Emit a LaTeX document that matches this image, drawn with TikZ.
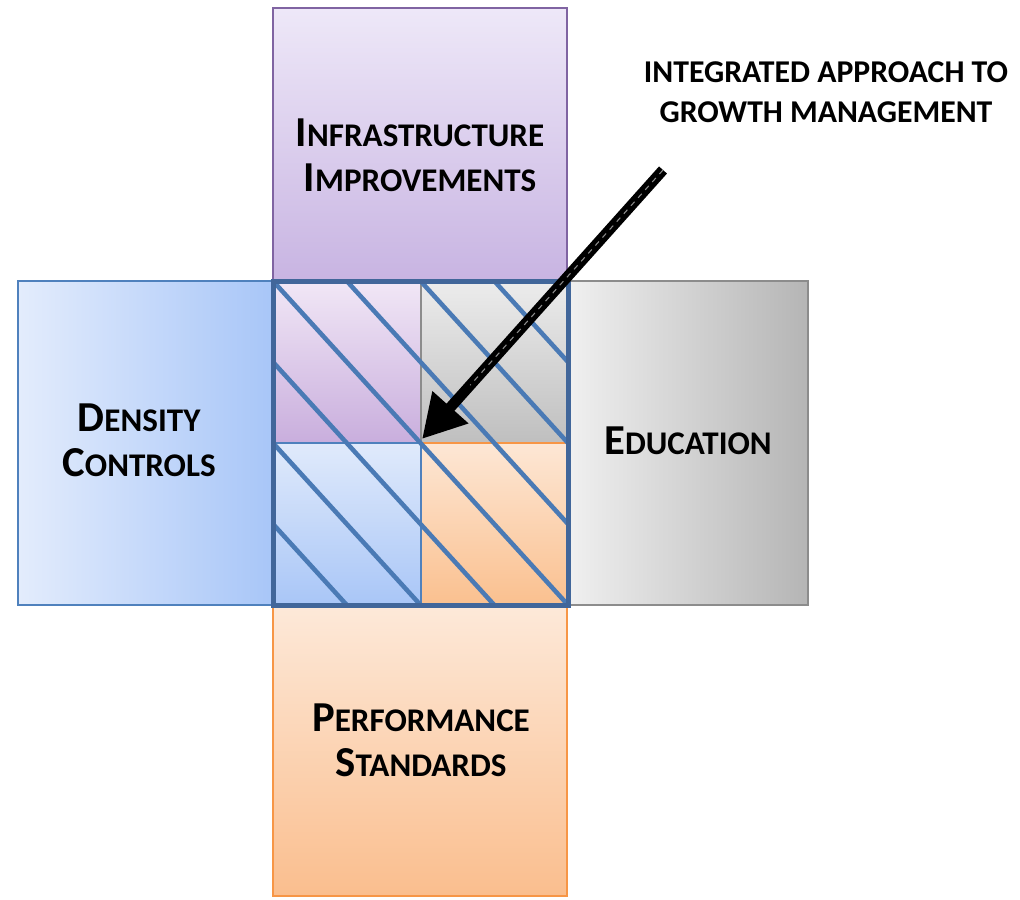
\documentclass[tikz,border=0pt]{standalone}
\usepackage{fontspec}
\setmainfont{Carlito}
\usepackage{tikz}
\usetikzlibrary{calc,arrows.meta}
\definecolor{purpleedge}{HTML}{8064A2}
\definecolor{blueedge}{HTML}{4F81BD}
\definecolor{grayedge}{HTML}{8C8C8C}
\definecolor{orangeedge}{HTML}{F79646}
\definecolor{coreedge}{HTML}{41669A}
\definecolor{hatchblue}{HTML}{4A7AB5}
\def\capword#1#2{#1{\fontsize{24.8}{33.75}\selectfont #2}}
\tikzset{
	boxtext/.style={font=\bfseries\fontsize{32}{33.75}\selectfont, align=center, text=black},
	hatch/.style={line width=3.4pt, color=hatchblue},
	bigarrow/.style={line width=8pt, -{Triangle[length=32pt,width=34pt]}}
}

\begin{document}
\begin{tikzpicture}[x=0.75pt, y=-0.75pt]
			%%%%% START %%%%%
			\useasboundingbox (0, 0) rectangle (1020, 899);
			
			% outer boxes
			\draw[draw=purpleedge, line width=1.5pt, top color={rgb,255:red,238;green,232;blue,248}, bottom color={rgb,255:red,200;green,180;blue,226}] (273, 8) rectangle (567, 281);
			\draw[draw=blueedge, line width=1.5pt, left color={rgb,255:red,227;green,236;blue,252}, right color={rgb,255:red,168;green,198;blue,248}] (18, 281) rectangle (273, 605);
			\draw[draw=grayedge, line width=1.5pt, left color={rgb,255:red,240;green,240;blue,240}, right color={rgb,255:red,181;green,181;blue,181}] (567, 281) rectangle (808, 605);
			\draw[draw=orangeedge, line width=1.5pt, top color={rgb,255:red,253;green,233;blue,217}, bottom color={rgb,255:red,250;green,190;blue,142}] (273, 605) rectangle (567, 896);
			
			% core quadrants
			\draw[draw=coreedge, line width=1.5pt, top color={rgb,255:red,241;green,231;blue,246}, bottom color={rgb,255:red,201;green,174;blue,221}] (273, 281) rectangle (421, 443);
			\draw[draw=grayedge, line width=1.5pt, top color={rgb,255:red,236;green,236;blue,236}, bottom color={rgb,255:red,191;green,191;blue,191}] (421, 281) rectangle (568, 443);
			\draw[draw=orangeedge, line width=1.5pt, top color={rgb,255:red,253;green,231;blue,213}, bottom color={rgb,255:red,250;green,192;blue,143}] (421, 443) rectangle (568, 605);
			\draw[draw=blueedge, line width=1.5pt, top color={rgb,255:red,224;green,234;blue,251}, bottom color={rgb,255:red,169;green,198;blue,247}] (273, 443) rectangle (421, 605);
			
			% hatching
			\begin{scope}
				\clip (273, 281) rectangle (568, 605);
				\foreach \k in {-3,...,3}
					\draw[hatch] ({273+\k*73.75}, 281) -- ({568+\k*73.75}, 605);
			\end{scope}
			\draw[draw=coreedge, line width=3.75pt] (273, 281) rectangle (568, 605);
			
			% labels
			\node[boxtext] (infra) at (420, 155) {\capword{I}{NFRASTRUCTURE}\\\capword{I}{MPROVEMENTS}};
			\node[boxtext] (density) at (139, 440) {\capword{D}{ENSITY}\\\capword{C}{ONTROLS}};
			\node[boxtext] (educ) at (688, 441) {\capword{E}{DUCATION}};
			\node[boxtext] (perf) at (421, 740) {\capword{P}{ERFORMANCE}\\\capword{S}{TANDARDS}};
			\node[font=\bfseries\fontsize{23.8}{30}\selectfont, align=center] (title) at (826, 92) {INTEGRATED APPROACH TO\\GROWTH MANAGEMENT};
			
			% arrow
			\coordinate (tail) at (663, 170);
			\coordinate (tip) at (422, 439);
			\draw[bigarrow] (tail) -- (tip);
			\draw[black!45, line width=0.8pt, dash pattern=on 4pt off 4pt] (tail) -- ($(tip)!0.2!(tail)$);
			
			%%%%% END %%%%%
\end{tikzpicture}
\end{document}
